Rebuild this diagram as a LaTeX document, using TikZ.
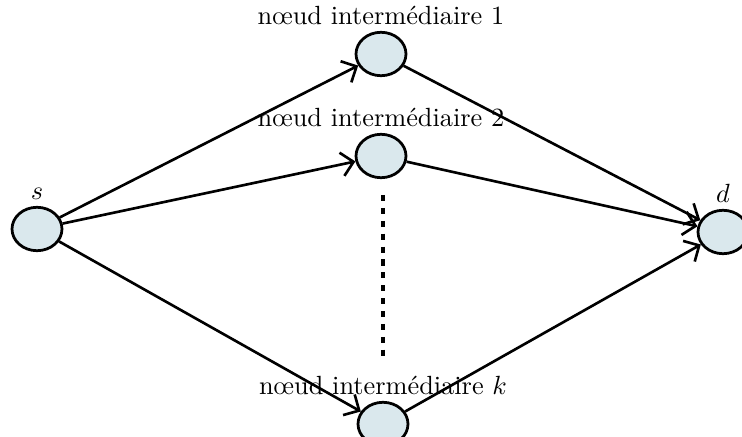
\documentclass[tikz,border=0pt]{standalone}
\usepackage{fontspec}
\usetikzlibrary{positioning, arrows.meta, shapes.geometric}

\definecolor{nodefill}{RGB}{218,232,237}

\begin{document}
\begin{tikzpicture}[
    x=0.38pt, y=-0.38pt,
    >={Straight Barb[length=4.5pt, width=9pt]},
    relay/.style={draw, ellipse, line width=1.05pt, fill=nodefill, minimum width=19pt, minimum height=16.5pt, inner sep=0pt},
    lbl/.style={label distance=2.2pt, inner sep=0pt},
    link/.style={->, line width=1pt, black}
]
\useasboundingbox (0,0) rectangle (742,437);

% Source and destination
\node[relay, label={[lbl]above:$s$}] (src) at (37,229) {};
\node[relay, label={[lbl]above:$d$}] (dst) at (723,232) {};

% Intermediate nodes
\node[relay, label={[lbl]above:nœud intermédiaire 1}] (mid1) at (381,54) {};
\node[relay, label={[lbl]above:nœud intermédiaire 2}] (mid2) at (381,156) {};
\node[relay, label={[lbl]above:nœud intermédiaire $k$}] (midk) at (383,424) {};

% Dots between node 2 and node k
\coordinate (dots_top) at (383,195);
\coordinate (dots_bot) at (383,359);
\draw[line width=1.25pt, dash pattern=on 2.3pt off 2.6pt] (dots_top) -- (dots_bot);

% Paths s -> relay -> d
\draw[link] (src) -- (mid1);
\draw[link] (src) -- (mid2);
\draw[link] (src) -- (midk);
\draw[link] (mid1) -- (dst);
\draw[link] (mid2) -- (dst);
\draw[link] (midk) -- (dst);

\end{tikzpicture}
\end{document}
